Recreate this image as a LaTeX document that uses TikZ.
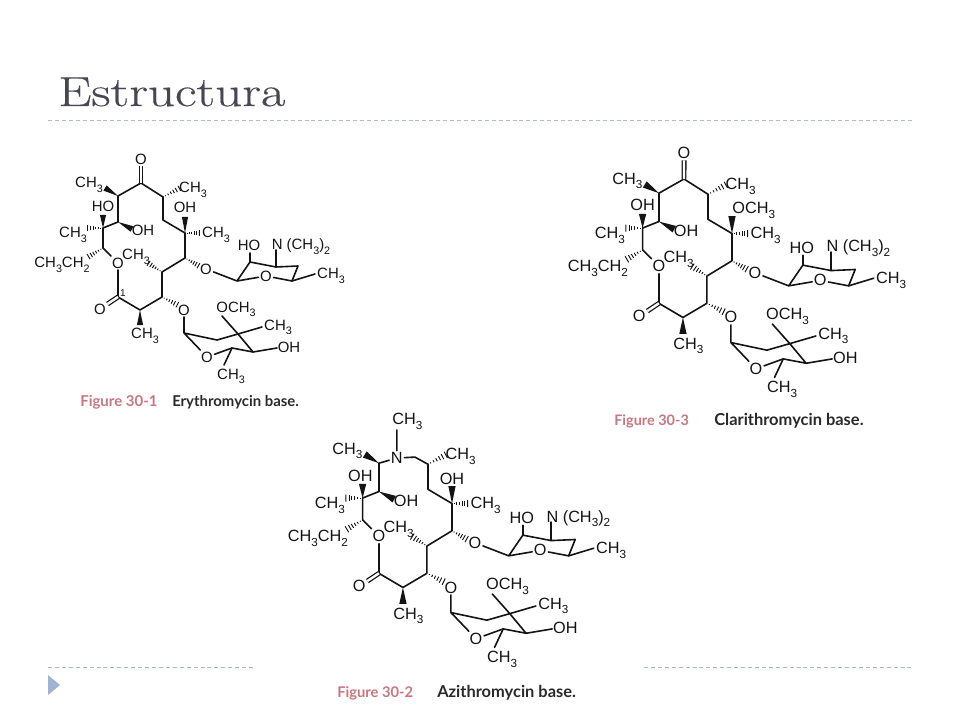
\documentclass[tikz,border=0pt]{standalone}
\usepackage{fontspec}
\setmainfont{Liberation Sans}
\newfontfamily\capfont{Lato}
\newfontfamily\titlefont[FakeBold=0.35]{Latin Modern Roman}
\usetikzlibrary{calc}
\definecolor{inkc}{HTML}{141414}
\definecolor{titlec}{HTML}{474753}
\definecolor{rulec}{HTML}{A9C2CC}
\definecolor{rulegrey}{HTML}{A8B8BC}
\definecolor{markc}{HTML}{9DB5D2}
\definecolor{figc}{HTML}{C9777F}
\definecolor{capc}{HTML}{2A2A2A}
\newcommand\subn[1]{\raisebox{-0.28em}{\scalebox{.72}{#1}}}
\newcommand\CHt{CH\subn{3}}
\newcommand\wdg[2]{\fill[inkc] (#1) -- ($(#2)!\molw pt!90:(#1)$) -- ($(#2)!\molw pt!-90:(#1)$) -- cycle;}
\newcommand\hsh[2]{\foreach \hv in {0.14,0.30,0.46,0.62,0.78,0.96}{%
  \pgfmathsetmacro\hw{\hv*\molw}%
  \draw[hashline] ($(#1)!\hv!(#2)!\hw pt!90:(#2)$) -- ($(#1)!\hv!(#2)!\hw pt!-90:(#2)$);}}
\tikzset{
  x=0.75pt,y=-0.75pt,
  bondline/.style={draw=inkc,line width=1.2pt,line join=round,line cap=round},
  dbl/.style={draw=inkc,line width=.95pt,double=white,double distance=1.8pt},
  hashline/.style={draw=inkc,line width=.7pt},
  atomlab/.style={inner sep=1.1pt,anchor=center,text=inkc,font=\molfont},
  grouplab/.style={inner sep=0pt,anchor=base,text=inkc,font=\molfont},
  dashrule/.style={line width=.6pt,dash pattern=on 3pt off 2.2pt},
  figlab/.style={inner sep=0pt,anchor=base west,text=figc,font=\capfont\bfseries},
  namelab/.style={inner sep=0pt,anchor=base west,text=capc,font=\capfont\bfseries},
}
% #1 dx, #2 dy, #3 scale, #4 font size, #5 prefix, #6 top group of the ring, #7 labels, #8 extras
\newcommand\molecule[8]{%
\begin{scope}[shift={(#1,#2)},scale=#3,name prefix=#5-]
  \pgfmathsetmacro\molw{#3*2.3}
  \def\molfont{\fontsize{#4}{#4}\selectfont}
  % ring atoms
  \coordinate (cA) at (141,183); \coordinate (cB) at (118,196);
  \coordinate (cC) at (118,222); \coordinate (cD) at (103,228);
  \coordinate (cE) at (103,248); \coordinate (cF) at (118,297);
  \coordinate (cG) at (140,310); \coordinate (cH) at (162,297);
  \coordinate (cI) at (162,272); \coordinate (cJ) at (185,258);
  \coordinate (cK) at (185,233); \coordinate (cL) at (163,220);
  \coordinate (cM) at (163,197);
  \node[atomlab] (oR) at (118,263) {O};
  \node[atomlab] (oC) at (100,309) {O};
  \node[atomlab] (oA) at (206,269) {O};
  \node[atomlab] (oB) at (184,310) {O};
  \draw[bondline] (cE) -- (oR);
  \draw[bondline] (oR) -- (cF) -- (cG) -- (cH) -- (cI) -- (cJ) -- (cK) -- (cL) -- (cM);
  \draw[bondline] (cB) -- (cC) -- (cD) -- (cE);
  \draw[dbl] (cF) -- (oC);
  #6
  % substituents
  \coordinate (wB) at (105,188); \wdg{cB}{wB}
  \node[grouplab] (lB) at (89,188) {\CHt};
  \coordinate (hM) at (180,188); \hsh{cM}{hM}
  \node[grouplab] (lM) at (193,193) {\CHt};
  \coordinate (wC) at (132,229); \wdg{cC}{wC}
  \node[grouplab] (lC) at (143,236) {OH};
  \coordinate (wD) at (103,215); \wdg{cD}{wD}
  \coordinate (hD) at (87,228); \hsh{cD}{hD}
  \node[grouplab] (lDb) at (73,238) {\CHt};
  \coordinate (hE) at (88,257); \hsh{cE}{hE}
  \node[grouplab] (lE) at (62,268) {\CHt CH\subn{2}};
  \coordinate (wK) at (185,217); \wdg{cK}{wK}
  #7
  \coordinate (hK) at (200,233); \hsh{cK}{hK}
  \node[grouplab] (lK) at (216,238) {\CHt};
  \coordinate (hJ) at (199,266); \hsh{cJ}{hJ}
  \coordinate (hI) at (148,263); \hsh{cI}{hI}
  \node[grouplab] (lI) at (136,260) {\CHt};
  \coordinate (hH) at (178,305); \hsh{cH}{hH}
  \coordinate (wG) at (140,325); \wdg{cG}{wG}
  \node[grouplab] (lG) at (145,339) {\CHt};
  % amino sugar
  \coordinate (s1) at (237,281); \coordinate (s2) at (250,262);
  \coordinate (s3) at (276,267); \coordinate (s4) at (298,266);
  \coordinate (s5) at (292,281); \coordinate (s6) at (250,253);
  \coordinate (s7) at (276,250); \coordinate (s8) at (315,274);
  \node[atomlab] (oS) at (266,276) {O};
  \draw[bondline] (oA) -- (s1) -- (s2) -- (s3) -- (s4) -- (s5) -- (oS) -- (s1);
  \draw[bondline] (s2) -- (s6);
  \draw[bondline] (s3) -- (s7);
  \draw[bondline] (s5) -- (s8);
  \node[grouplab] (lHO) at (249,251) {HO};
  \node[grouplab] (lN) at (301,250) {N (\CHt)\subn{2}};
  \node[grouplab] (lS) at (331,279) {\CHt};
  % neutral sugar
  \coordinate (t1) at (184,333); \coordinate (t2) at (217,340);
  \coordinate (t3) at (238,334); \coordinate (t4) at (253,352);
  \coordinate (t5) at (232,348); \coordinate (t6) at (222,316);
  \coordinate (t7) at (262,327); \coordinate (t8) at (277,348);
  \coordinate (t9) at (224,365);
  \node[atomlab] (oT) at (207,357) {O};
  \draw[bondline] (oB) -- (t1) -- (t2) -- (t3) -- (t4) -- (t5) -- (oT) -- (t1);
  \draw[bondline] (t6) -- (t3) -- (t7);
  \draw[bondline] (t4) -- (t8);
  \draw[bondline] (t5) -- (t9);
  \node[grouplab] (lO) at (236,312) {O\CHt};
  \node[grouplab] (lT) at (278,330) {\CHt};
  \node[grouplab] (lOH) at (289,352) {OH};
  \node[grouplab] (lU) at (231,379) {\CHt};
  #8
\end{scope}}
\begin{document}
\begin{tikzpicture}
\useasboundingbox (0,0) rectangle (960,720);
\fill[white] (0,0) rectangle (960,720);
\node[inner sep=0pt,anchor=base west,text=titlec] (title) at (58,106)
  {\scalebox{1.26}[1]{\fontsize{31.5}{32}\titlefont Estructura}};
\coordinate (r1) at (48,120.5); \coordinate (r2) at (912,120.5);
\draw[dashrule,draw=rulec] (r1) -- (r2);
\coordinate (r3) at (48,667); \coordinate (r4) at (253,667);
\coordinate (r5) at (644,667); \coordinate (r6) at (912,667);
\draw[dashrule,draw=rulegrey] (r3) -- (r4);
\draw[dashrule,draw=rulegrey] (r5) -- (r6);
\fill[markc] (48,675) -- (60,685) -- (48,695) -- cycle;

% Erythromycin
\molecule{0}{0}{1}{11.2}{ery}
  {\node[atomlab] (oK) at (141,159) {O};
   \draw[bondline] (cM) -- (cA) -- (cB);
   \draw[dbl] (cA) -- (oK);}
  {\node[grouplab] (lKb) at (185,213) {OH};
   \node[grouplab] (lD) at (103,212) {HO};}
  {\node[inner sep=0pt,font=\fontsize{7.5}{8}\selectfont,text=inkc] (one) at (123,293) {1};}
% Clarithromycin
\molecule{530.3}{-20.5}{1.09}{12.2}{cla}
  {\node[atomlab] (oK) at (141,159) {O};
   \draw[bondline] (cM) -- (cA) -- (cB);
   \draw[dbl] (cA) -- (oK);}
  {\node[grouplab] (lKb) at (205,215) {O\CHt};
   \node[grouplab] (lD) at (103,212) {OH};}
  {}
% Azithromycin
\molecule{250.3}{249.5}{1.09}{12.2}{azi}
  {\node[atomlab] (nK) at (134.4,191.3) {N};
   \coordinate (cQ) at (151,190.4);
   \coordinate (cT) at (134.5,165.6);
   \draw[bondline] (cB) -- (nK) -- (cQ) -- (cM);
   \draw[bondline] (nK) -- (cT);
   \node[grouplab] (lN2) at (144,160.5) {\CHt};}
  {\node[grouplab] (lKb) at (185,216) {OH};
   \node[grouplab] (lD) at (101,213) {OH};}
  {}

% captions
\node[figlab] (f1) at (80,406) {\resizebox{58pt}{!}{Figure 30-1}};
\node[namelab] (n1) at (172,406) {\resizebox{95pt}{!}{Erythromycin base.}};
\node[figlab] (f3) at (614,425) {\resizebox{56pt}{!}{Figure 30-3}};
\node[namelab] (n3) at (714,425) {\resizebox{112pt}{!}{Clarithromycin base.}};
\node[figlab] (f2) at (337,697) {\resizebox{57pt}{!}{Figure 30-2}};
\node[namelab] (n2) at (437,697) {\resizebox{104pt}{!}{Azithromycin base.}};
\end{tikzpicture}
\end{document}
